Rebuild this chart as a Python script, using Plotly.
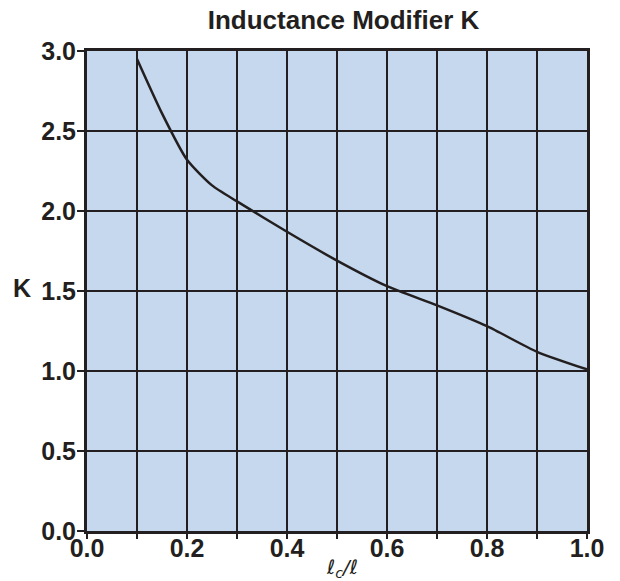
import plotly.graph_objects as go

# Inductance modifier K versus length ratio lc/l
ratio = [0.1, 0.15, 0.2, 0.25, 0.3, 0.4, 0.5, 0.6, 0.7, 0.8, 0.9, 1.0]
k_values = [2.95, 2.61, 2.32, 2.16, 2.06, 1.87, 1.69, 1.53, 1.41, 1.28, 1.12, 1.01]

x_ticks = [0.0, 0.2, 0.4, 0.6, 0.8, 1.0]
x_labels = ["0.0", "0.2", "0.4", "0.6", "0.8", "1.0"]
y_ticks = [0.0, 0.5, 1.0, 1.5, 2.0, 2.5, 3.0]
y_labels = ["0.0", "0.5", "1.0", "1.5", "2.0", "2.5", "3.0"]

INK = "#231F20"
FILL = "#C5D8EE"
FONT = "Liberation Sans, Arial, sans-serif"

fig = go.Figure()
fig.add_trace(go.Scatter(
    x=ratio, y=k_values, mode="lines",
    line=dict(color=INK, width=2.5, shape="spline", smoothing=0.6),
    hoverinfo="skip", showlegend=False,
))

axis_common = dict(
    showgrid=True, gridcolor=INK, gridwidth=2.2,
    showline=True, linecolor=INK, linewidth=3, mirror=True,
    tickcolor=INK, tickwidth=1.5,
    tickfont=dict(family=FONT, size=25, color=INK, weight="bold"),
    zeroline=False, fixedrange=True,
)

# major ticks carry the labels; minor ticks give the 0.1 grid and tick marks
fig.update_xaxes(range=[0, 1], tickmode="array", tickvals=x_ticks,
                 ticktext=x_labels, ticks="outside", ticklen=5,
                 ticklabelstandoff=-12,
                 minor=dict(dtick=0.1, tick0=0, ticks="outside", ticklen=5,
                            tickwidth=1.5, tickcolor=INK,
                            showgrid=True, gridcolor=INK, gridwidth=2.2),
                 **axis_common)
fig.update_yaxes(range=[0, 3], tickmode="array", tickvals=y_ticks,
                 ticktext=y_labels, ticks="outside", ticklen=7,
                 ticklabelstandoff=-4, **axis_common)

fig.update_layout(
    width=620, height=581,
    margin=dict(l=87, r=33, t=51, b=50),
    paper_bgcolor="white", plot_bgcolor=FILL,
    title=dict(text="<b>Inductance Modifier K</b>", x=343.5 / 620, xanchor="center",
               y=1 - 20 / 581, yanchor="middle",
               font=dict(family=FONT, size=26, color=INK)),
    annotations=[
        dict(text="<b>K</b>", xref="paper", yref="paper",
             x=-65 / 500, y=(531 - 288) / 480, xanchor="center", yanchor="middle",
             showarrow=False, font=dict(family=FONT, size=25, color=INK)),
        dict(text="<i>ℓ<sub>c</sub>/ℓ</i>", xref="paper", yref="paper",
             x=(342 - 87) / 500, y=-(568 - 531) / 480, xanchor="center", yanchor="middle",
             showarrow=False, font=dict(family="DejaVu Sans, sans-serif", size=20, color=INK)),
    ],
)

fig.write_html("out.html")
